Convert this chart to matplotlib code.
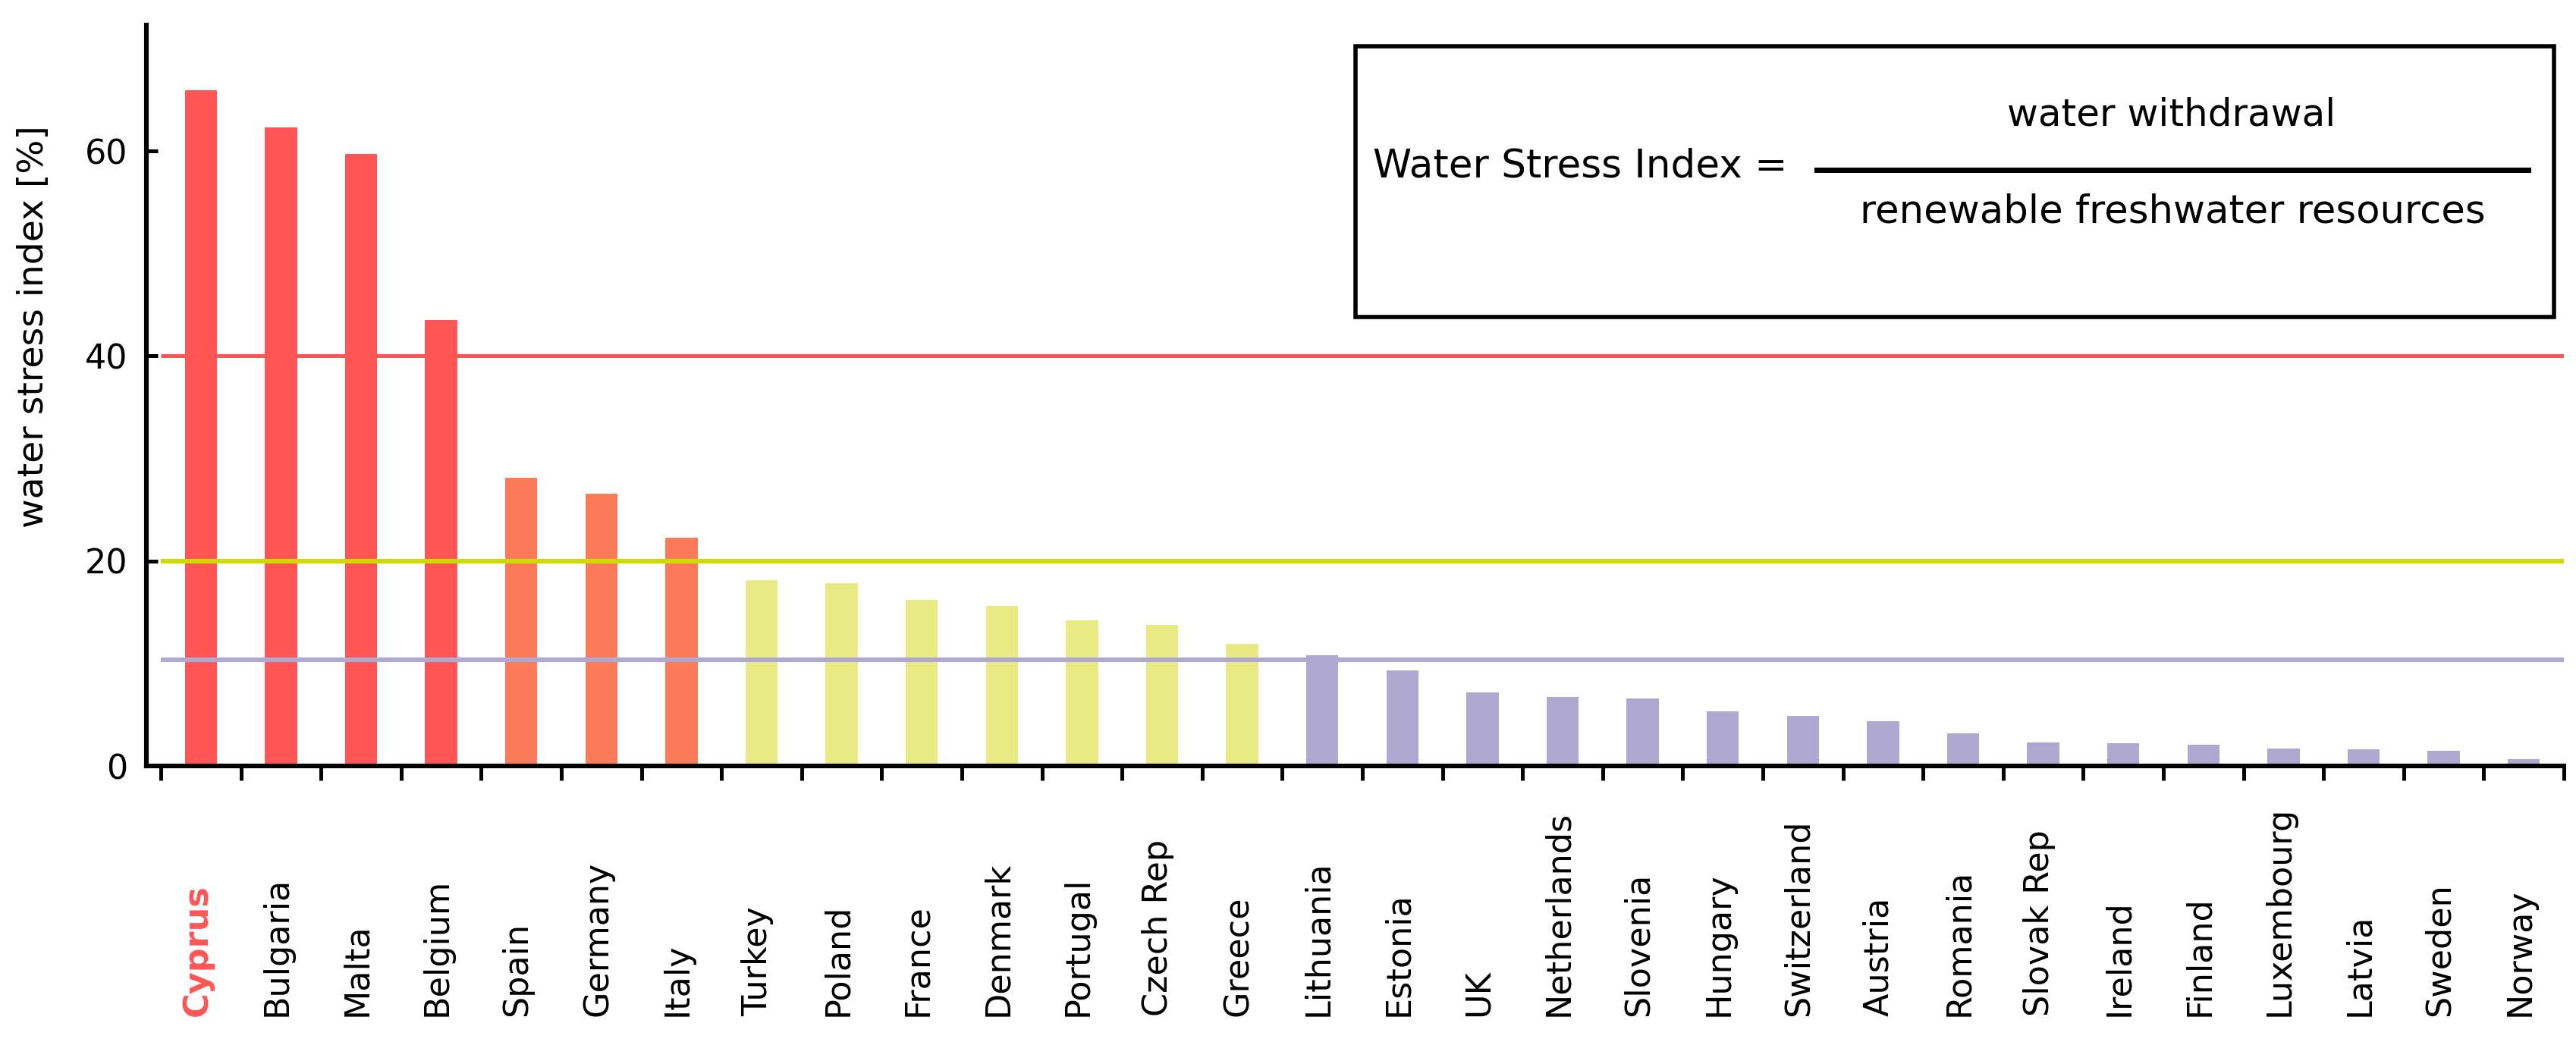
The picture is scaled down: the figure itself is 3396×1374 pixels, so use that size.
import matplotlib
matplotlib.use("Agg")
import matplotlib.pyplot as plt
import matplotlib.transforms as mtransforms
from matplotlib.patches import Rectangle
from matplotlib.lines import Line2D
import numpy as np

countries = ["Cyprus", "Bulgaria", "Malta", "Belgium", "Spain", "Germany", "Italy",
             "Turkey", "Poland", "France", "Denmark", "Portugal", "Czech Rep", "Greece",
             "Lithuania", "Estonia", "UK", "Netherlands", "Slovenia", "Hungary",
             "Switzerland", "Austria", "Romania", "Slovak Rep", "Ireland", "Finland",
             "Luxembourg", "Latvia", "Sweden", "Norway"]
values = [65.9, 62.3, 59.7, 43.5, 28.1, 26.6, 22.3,
          18.1, 17.8, 16.2, 15.6, 14.2, 13.8, 11.9,
          10.8, 9.35, 7.2, 6.75, 6.6, 5.35,
          4.85, 4.35, 3.2, 2.28, 2.2, 2.08,
          1.7, 1.6, 1.48, 0.66]
groups = ["severe"] * 4 + ["high"] * 3 + ["medium"] * 7 + ["low"] * 16
thresholds = [40.0, 20.0, 10.35]
threshold_groups = ["severe", "medium", "low"]
yticks = [0, 20, 40, 60]

bar_colors = {"severe": "#FF5555", "high": "#FE7B5A", "medium": "#E8EA84", "low": "#AFA8D1"}
line_colors = {"severe": "#FF5555", "medium": "#CEDA00", "low": "#AFA8D1"}
line_widths = {"severe": 1.8, "medium": 2.2, "low": 2.2}

W, H, DPI = 3396, 1374, 200
fig = plt.figure(figsize=(W / DPI, H / DPI), dpi=DPI)
plt.rcParams['font.family'] = ['DejaVu Sans']

ax_l, ax_r = 193 / W, 3380 / W
ax_b, ax_t = 1 - 1010 / H, 1 - 33 / H
ax = fig.add_axes([ax_l, ax_b, ax_r - ax_l, ax_t - ax_b])

x = np.arange(len(countries))
ax.bar(x, values, width=0.4, color=[bar_colors[g] for g in groups], zorder=2)
for t, g in zip(thresholds, threshold_groups):
    ax.hlines(t, -0.5, len(countries) - 0.5, colors=line_colors[g],
              linewidth=line_widths[g], zorder=3)

ax.set_xlim(-0.68, len(countries) - 0.5)
ax.set_ylim(0, 72.3)

for s in ["top", "right"]:
    ax.spines[s].set_visible(False)
for s in ["left", "bottom"]:
    ax.spines[s].set_linewidth(2.2)
    ax.spines[s].set_color("black")
    ax.spines[s].set_zorder(4)

ax.set_xticks(np.arange(-0.5, len(countries), 1.0))
ax.set_xticklabels([])
ax.tick_params(axis="x", direction="out", length=7, width=1.8, color="black")
ax.set_yticks(yticks)
ax.set_yticklabels([str(v) for v in yticks], fontsize=16)
ax.tick_params(axis="y", direction="in", length=5.5, width=1.8, pad=9, color="black")

trans = mtransforms.blended_transform_factory(ax.transData, fig.transFigure)
label_bottom = 1 - 1340 / H
for i, name in enumerate(countries):
    if i == 0:
        ax.text(i - 0.04, label_bottom, name, transform=trans, rotation=90,
                ha="center", va="bottom", fontsize=16, fontweight="bold",
                color="#FF5555", clip_on=False)
    else:
        ax.text(i - 0.05, label_bottom, name, transform=trans, rotation=90,
                ha="center", va="bottom", fontsize=16, color="black", clip_on=False)

fig.text(45 / W, 1 - 431 / H, "water stress index [%]", rotation=90,
         ha="center", va="center", fontsize=17)

# formula box
bx0, bx1 = 1787 / W, 3367 / W
by0, by1 = 1 - 418 / H, 1 - 61 / H
fig.add_artist(Rectangle((bx0, by0), bx1 - bx0, by1 - by0, transform=fig.transFigure,
                         fill=False, edgecolor="black", linewidth=2.0))
fig.text(1810 / W, 1 - 220 / H, "Water Stress Index =", ha="left", va="center", fontsize=18.6)
fig.add_artist(Line2D([2395 / W, 3333 / W], [1 - 224 / H, 1 - 224 / H],
                      transform=fig.transFigure, color="black", linewidth=2.5))
fig.text(2863 / W, 1 - 151 / H, "water withdrawal", ha="center", va="center", fontsize=18)
fig.text(2864 / W, 1 - 280 / H, "renewable freshwater resources", ha="center",
         va="center", fontsize=18.5)

fig.savefig("out.png", dpi=DPI)
